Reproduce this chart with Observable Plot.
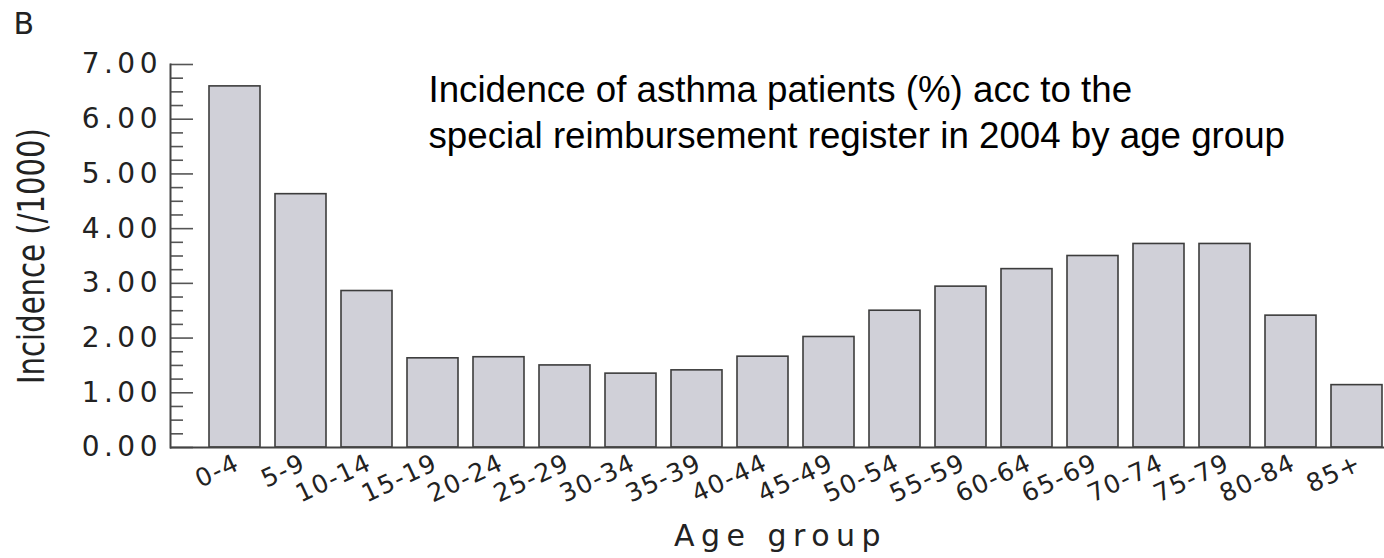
<!DOCTYPE html>
<html><head><meta charset="utf-8">
<script src="https://cdn.jsdelivr.net/npm/d3@7"></script>
<script src="https://cdn.jsdelivr.net/npm/@observablehq/plot@0.6"></script>
<style>
body{margin:0;background:#fff;}
#chart svg{display:block;}
g[aria-label="y-axis tick label"] text{letter-spacing:4.5px;}
g[aria-label="x-axis tick label"] text{letter-spacing:1.5px;}
</style></head><body><div id="chart"></div>
<script>
const ageGroups = ["0-4","5-9","10-14","15-19","20-24","25-29","30-34","35-39","40-44","45-49","50-54","55-59","60-64","65-69","70-74","75-79","80-84","85+"];
const incidence = [6.60,4.63,2.86,1.63,1.65,1.50,1.35,1.41,1.66,2.02,2.50,2.94,3.26,3.50,3.72,3.72,2.41,1.14];
const yTicks = [0,1,2,3,4,5,6,7];
const panelLetter = "B";
const titleText = "Incidence of asthma patients (%) acc to the\nspecial reimbursement register in 2004 by age group";
const yLabel = "Incidence (/1000)";
const xLabel = "Age group";

const data = ageGroups.map((a,i)=>({age:a, value:incidence[i]}));
const minorTicks = yTicks.slice(0,-1).flatMap(t=>[t+0.25,t+0.5,t+0.75]);

const W = 1384, H = 558, mL = 170, mR = 0, mT = 64, mB = 111;
const plotW = W - mL - mR;
const geo = "DejaVu Sans, sans-serif";

const chart = Plot.plot({
  width: W, height: H,
  marginLeft: mL, marginRight: mR, marginTop: mT, marginBottom: mB,
  style: {background:"#fff", overflow:"visible"},
  x: {domain: ageGroups, paddingInner: 0.224, paddingOuter: 0.26, align: 0.945, axis: null},
  y: {domain: [0,7], axis: null},
  marks: [
    Plot.barY(data, {x:"age", y:"value", fill:"#d0d0d8", stroke:"#3c3c3c", strokeWidth:1.6}),
    Plot.ruleY(yTicks, {y:d=>d, insetRight: plotW - 23, stroke:"#555", strokeWidth:1.6}),
    Plot.ruleY(minorTicks, {y:d=>d, insetRight: plotW - 13, stroke:"#555", strokeWidth:1.6}),
    Plot.frame({anchor:"left", stroke:"#444", strokeWidth:2}),
    Plot.ruleY([0], {stroke:"#444", strokeWidth:2}),
    Plot.axisY(yTicks, {tickSize:0, tickPadding:8.5, tickFormat:d=>d.toFixed(2), fontSize:28, fontFamily:geo, fill:"#222", label:null}),
    Plot.axisX({tickSize:0, tickPadding:14, tickRotate:-25, dx:3, fontSize:25, fontFamily:geo, fill:"#222", label:null}),
    Plot.text([yLabel], {frameAnchor:"left", dx:-139, rotate:-90, textAnchor:"middle", fontSize:38, fontFamily:"DejaVu Sans Condensed, sans-serif", fill:"#222"}),
    Plot.text([xLabel], {frameAnchor:"bottom", dx:3, dy:76.7, lineAnchor:"top", fontSize:30, fontFamily:geo, fill:"#222"}),
    Plot.text([titleText], {frameAnchor:"top-left", dx:258, dy:5, lineAnchor:"top", textAnchor:"start", fontSize:36.7, lineHeight:1.25, fontFamily:"Liberation Sans, Arial, sans-serif", fill:"#000"}),
    Plot.text([panelLetter], {frameAnchor:"top-left", dx:-157, dy:-52, lineAnchor:"top", textAnchor:"start", fontSize:30, fontFamily:geo, fill:"#222"})
  ]
});
document.getElementById("chart").appendChild(chart);
const texts = d3.select(chart).selectAll('g[aria-label="text"] text');
texts.filter(function(){return this.textContent===xLabel;}).style("letter-spacing","6.5px");
texts.filter(function(){return this.textContent===yLabel;}).attr("textLength",256).attr("lengthAdjust","spacingAndGlyphs");
</script></body></html>
